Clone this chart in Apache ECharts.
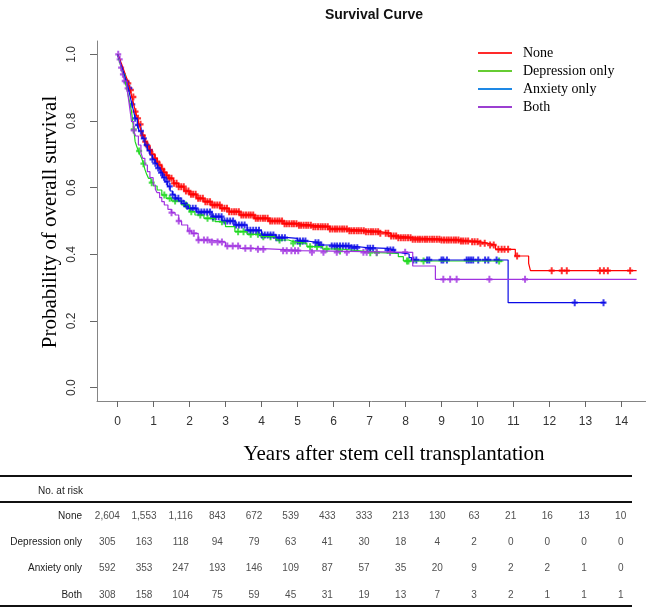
<!DOCTYPE html>
<html>
<head>
<meta charset="utf-8">
<title>Survival Curve</title>
<script src="https://cdn.jsdelivr.net/npm/echarts@6/dist/echarts.min.js"></script>
<style>
  html, body { margin: 0; padding: 0; background: #fff; }
  #survival-chart { width: 646px; height: 608px; }
</style>
</head>
<body>
<div id="survival-chart"></div>
<script>
// groups, in R drawing order
const groupNames = ['None', 'Depression only', 'Anxiety only', 'Both']
const xTicks = [0, 1, 2, 3, 4, 5, 6, 7, 8, 9, 10, 11, 12, 13, 14]
const yTicks = [0, 0.2, 0.4, 0.6, 0.8, 1.0]

// Kaplan-Meier steps (years, survival)
const noneTime = [0, 0.05, 0.1, 0.15, 0.2, 0.25, 0.3, 0.35, 0.4, 0.45, 0.5, 0.55, 0.6, 0.65, 0.7, 0.76, 0.82, 0.88, 0.95, 1.04, 1.1, 1.15, 1.22, 1.28, 1.35, 1.41, 1.55, 1.7, 1.85, 2.0, 2.2, 2.4, 2.6, 2.85, 3.1, 3.4, 3.8, 4.2, 4.6, 5.0, 5.4, 5.9, 6.4, 6.9, 7.3, 7.6, 7.8, 8.2, 9.0, 9.5, 9.75, 10.05, 10.3, 10.5, 11.05, 11.42, 11.47, 14.42]
const noneSurv = [1, 0.988, 0.975, 0.96, 0.945, 0.93, 0.913, 0.893, 0.872, 0.85, 0.828, 0.808, 0.79, 0.772, 0.757, 0.738, 0.725, 0.713, 0.7, 0.688, 0.678, 0.668, 0.656, 0.646, 0.637, 0.628, 0.613, 0.603, 0.59, 0.58, 0.568, 0.558, 0.548, 0.538, 0.528, 0.518, 0.508, 0.5, 0.492, 0.487, 0.483, 0.476, 0.471, 0.468, 0.463, 0.455, 0.45, 0.445, 0.443, 0.44, 0.438, 0.433, 0.428, 0.415, 0.395, 0.373, 0.351, 0.351]

const depressionTime = [0, 0.05, 0.1, 0.15, 0.21, 0.26, 0.3, 0.35, 0.39, 0.42, 0.45, 0.49, 0.53, 0.58, 0.62, 0.67, 0.72, 0.76, 0.81, 0.86, 0.93, 1.0, 1.1, 1.23, 1.35, 1.5, 1.78, 2.0, 2.15, 2.4, 2.71, 3.0, 3.26, 3.6, 4.0, 4.4, 4.75, 4.88, 5.26, 5.7, 6.18, 6.8, 7.29, 7.8, 7.94, 10.72]
const depressionSurv = [1, 0.98, 0.96, 0.94, 0.918, 0.897, 0.875, 0.85, 0.828, 0.8, 0.775, 0.738, 0.725, 0.71, 0.7, 0.688, 0.672, 0.655, 0.64, 0.628, 0.615, 0.605, 0.593, 0.578, 0.568, 0.56, 0.548, 0.528, 0.518, 0.508, 0.498, 0.483, 0.468, 0.46, 0.453, 0.443, 0.438, 0.433, 0.423, 0.416, 0.41, 0.405, 0.403, 0.393, 0.38, 0.38]

const anxietyTime = [0, 0.05, 0.1, 0.15, 0.2, 0.25, 0.3, 0.35, 0.4, 0.45, 0.49, 0.55, 0.6, 0.68, 0.76, 0.83, 0.9, 0.97, 1.04, 1.11, 1.18, 1.25, 1.32, 1.39, 1.46, 1.53, 1.6, 1.7, 1.78, 1.88, 1.97, 2.2, 2.62, 2.9, 3.26, 3.6, 4.0, 4.4, 4.75, 5.0, 5.26, 5.6, 5.9, 6.5, 6.92, 7.48, 7.7, 7.85, 8.1, 8.17, 10.85, 13.55]
const anxietySurv = [1, 0.985, 0.968, 0.952, 0.935, 0.917, 0.898, 0.874, 0.85, 0.828, 0.808, 0.788, 0.77, 0.748, 0.728, 0.712, 0.698, 0.685, 0.673, 0.659, 0.645, 0.631, 0.618, 0.604, 0.59, 0.579, 0.568, 0.56, 0.552, 0.545, 0.538, 0.527, 0.513, 0.5, 0.488, 0.472, 0.458, 0.45, 0.448, 0.44, 0.435, 0.428, 0.425, 0.42, 0.418, 0.413, 0.405, 0.401, 0.39, 0.383, 0.255, 0.255]

const bothTime = [0, 0.05, 0.1, 0.15, 0.2, 0.26, 0.3, 0.35, 0.39, 0.45, 0.5, 0.58, 0.65, 0.7, 0.76, 0.83, 0.9, 0.99, 1.05, 1.1, 1.17, 1.23, 1.3, 1.4, 1.5, 1.6, 1.7, 1.78, 1.95, 2.06, 2.24, 2.6, 3.0, 3.4, 3.9, 4.5, 5.07, 8.2, 8.83, 14.42]
const bothSurv = [1, 0.985, 0.96, 0.94, 0.92, 0.898, 0.87, 0.83, 0.798, 0.772, 0.755, 0.728, 0.705, 0.688, 0.668, 0.648, 0.63, 0.608, 0.595, 0.585, 0.57, 0.558, 0.548, 0.535, 0.525, 0.518, 0.5, 0.488, 0.47, 0.463, 0.443, 0.437, 0.425, 0.418, 0.415, 0.411, 0.406, 0.365, 0.325, 0.325]

// censoring marks (years)
const noneCensor = [0.3, 0.37, 0.44, 0.5, 0.57, 0.64, 0.7, 0.77, 0.84, 0.9, 0.97, 1.04, 1.1, 1.17, 1.24, 1.3, 1.37, 1.44, 1.5, 1.57, 1.64, 1.7, 1.77, 1.84, 1.9, 1.97, 2.04, 2.1, 2.17, 2.24, 2.3, 2.37, 2.44, 2.5, 2.57, 2.64, 2.7, 2.77, 2.84, 2.9, 2.97, 3.04, 3.1, 3.17, 3.24, 3.3, 3.37, 3.44, 3.5, 3.57, 3.64, 3.7, 3.77, 3.84, 3.9, 3.97, 4.04, 4.1, 4.17, 4.24, 4.3, 4.37, 4.44, 4.5, 4.57, 4.64, 4.7, 4.77, 4.84, 4.9, 4.97, 5.04, 5.1, 5.17, 5.24, 5.3, 5.37, 5.44, 5.5, 5.57, 5.64, 5.7, 5.77, 5.84, 5.9, 5.97, 6.04, 6.1, 6.17, 6.24, 6.3, 6.37, 6.44, 6.5, 6.57, 6.64, 6.7, 6.77, 6.84, 6.9, 6.97, 7.04, 7.1, 7.17, 7.24, 7.3, 7.45, 7.52, 7.6, 7.67, 7.74, 7.8, 7.87, 7.94, 8.0, 8.07, 8.14, 8.2, 8.27, 8.34, 8.4, 8.47, 8.54, 8.6, 8.67, 8.74, 8.8, 8.87, 8.94, 9.0, 9.07, 9.14, 9.2, 9.27, 9.34, 9.4, 9.47, 9.54, 9.6, 9.67, 9.74, 9.85, 9.92, 10.0, 10.08, 10.2, 10.35, 10.45, 10.58, 10.67, 10.75, 10.85, 11.1, 12.06, 12.34, 12.48, 13.4, 13.51, 13.62, 14.24]
const depressionCensor = [0.45, 0.6, 0.72, 0.95, 1.3, 1.45, 1.6, 1.9, 2.05, 2.3, 2.5, 2.65, 2.9, 3.35, 3.5, 3.7, 3.9, 4.05, 4.25, 4.5, 4.88, 5.07, 5.35, 5.54, 5.81, 6.09, 6.18, 7.02, 7.2, 8.04, 8.08, 8.5, 10.6]
const anxietyCensor = [0.25, 0.33, 0.41, 0.49, 0.57, 0.65, 0.73, 0.81, 0.89, 0.97, 1.05, 1.13, 1.21, 1.29, 1.37, 1.45, 1.53, 1.61, 1.69, 1.77, 1.85, 1.93, 2.01, 2.09, 2.17, 2.25, 2.33, 2.41, 2.49, 2.57, 2.65, 2.73, 2.81, 2.89, 2.97, 3.05, 3.13, 3.21, 3.29, 3.37, 3.45, 3.53, 3.61, 3.69, 3.77, 3.85, 3.93, 4.01, 4.09, 4.17, 4.25, 4.33, 4.41, 4.49, 4.57, 4.65, 5.0, 5.07, 5.15, 5.22, 5.5, 5.58, 5.66, 5.95, 6.03, 6.1, 6.18, 6.26, 6.34, 6.42, 6.5, 6.58, 6.66, 6.95, 7.02, 7.1, 7.5, 7.58, 7.66, 8.22, 8.3, 8.6, 8.66, 9.0, 9.05, 9.15, 9.7, 9.76, 9.82, 9.88, 10.02, 10.21, 10.3, 10.53, 12.7, 13.5]
const bothCensor = [0.02, 0.06, 0.1, 0.15, 0.2, 0.28, 0.45, 1.5, 1.7, 2.0, 2.12, 2.25, 2.4, 2.5, 2.62, 2.78, 2.9, 3.05, 3.2, 3.35, 3.55, 3.7, 3.9, 4.05, 4.6, 4.7, 4.83, 4.93, 5.02, 5.4, 5.72, 6.09, 6.37, 6.83, 6.92, 7.2, 7.57, 7.99, 9.05, 9.24, 9.42, 10.33, 11.32]

// number at risk table
const riskNone = [2604, 1553, 1116, 843, 672, 539, 433, 333, 213, 130, 63, 21, 16, 13, 10]
const riskDepression = [305, 163, 118, 94, 79, 63, 41, 30, 18, 4, 2, 0, 0, 0, 0]
const riskAnxiety = [592, 353, 247, 193, 146, 109, 87, 57, 35, 20, 9, 2, 2, 1, 0]
const riskBoth = [308, 158, 104, 75, 59, 45, 31, 19, 13, 7, 3, 2, 1, 1, 1]

const lineColors = ['#FF0000', '#1FD81F', '#0A0AE6', '#A032E0']
const legendColors = ['#FF2A2A', '#66CC33', '#1E88E5', '#9B3FD1']
const SERIF = '"Liberation Serif", "Times New Roman", serif'
const SANS = '"Liberation Sans", Arial, sans-serif'
// R's "+" censor mark
const plusMark = 'path://M2,0h2v2.3h2v2.4h-2v2.3h-2v-2.3h-2v-2.4h2z'

const curves = [
  {time: noneTime, surv: noneSurv, censor: noneCensor},
  {time: depressionTime, surv: depressionSurv, censor: depressionCensor},
  {time: anxietyTime, surv: anxietySurv, censor: anxietyCensor},
  {time: bothTime, surv: bothSurv, censor: bothCensor}
]
const riskRows = [riskNone, riskDepression, riskAnxiety, riskBoth]

// survival value of a step curve at time t
const survAt = (time, surv, t) => {
  let s = surv[0]
  for (let i = 0; i < time.length; i++) {
    if (time[i] <= t) s = surv[i]
  }
  return s
}

const series = []
curves.forEach((c, gi) => {
  series.push({
    name: groupNames[gi],
    type: 'line',
    step: 'end',
    showSymbol: false,
    silent: true,
    data: c.time.map((t, i) => [t, c.surv[i]]),
    lineStyle: {color: lineColors[gi], width: 1.2},
    itemStyle: {color: lineColors[gi]}
  })
  series.push({
    name: groupNames[gi] + ' censored',
    type: 'scatter',
    symbol: plusMark,
    symbolSize: [6, 7],
    silent: true,
    data: c.censor.map(t => [t, survAt(c.time, c.surv, t)]),
    itemStyle: {color: lineColors[gi]}
  })
})

const tableData = []
riskRows.forEach((row, ri) => {
  row.forEach((n, ci) => tableData.push([ci, groupNames[ri], n]))
})
series.push({
  name: 'at risk',
  type: 'scatter',
  xAxisIndex: 1,
  yAxisIndex: 1,
  symbolSize: 1,
  silent: true,
  itemStyle: {color: 'transparent'},
  label: {
    show: true,
    position: 'inside',
    fontFamily: SANS,
    fontSize: 10,
    color: '#222',
    formatter: p => p.value[2].toLocaleString('en-US')
  },
  data: tableData
})

const chart = echarts.init(document.getElementById('survival-chart'), null, {renderer: 'canvas'})

chart.setOption({
  backgroundColor: '#fff',
  animation: false,
  title: {
    text: 'Survival Curve',
    left: 369,
    top: 3,
    textAlign: 'center',
    textStyle: {
      fontFamily: '"Liberation Sans Narrow", "Liberation Sans", Arial, sans-serif',
      fontWeight: 'bold',
      fontSize: 14,
      color: '#111'
    }
  },
  legend: {
    orient: 'vertical',
    left: 478,
    top: 44,
    icon: 'rect',
    itemWidth: 34,
    itemHeight: 2,
    itemGap: 0,
    padding: 0,
    selectedMode: false,
    textStyle: {
      fontFamily: SERIF,
      fontSize: 14,
      lineHeight: 18,
      color: '#000',
      padding: [0, 0, 0, 6]
    },
    data: groupNames.map((n, i) => ({name: n, itemStyle: {color: legendColors[i]}}))
  },
  grid: [
    {left: 97, right: 0, top: 41, height: 360},
    {left: 89, right: 7, top: 503, height: 105}
  ],
  xAxis: [
    {
      type: 'value',
      min: -0.57,
      max: 14.68,
      axisLine: {onZero: false, lineStyle: {color: '#858585', width: 1}},
      axisTick: {customValues: xTicks, length: 6, lineStyle: {color: '#666'}},
      axisLabel: {
        customValues: xTicks,
        margin: 15,
        fontFamily: SANS,
        fontSize: 12,
        color: '#333'
      },
      splitLine: {show: false}
    },
    {
      gridIndex: 1,
      type: 'value',
      min: -0.5,
      max: 14.5,
      show: false
    }
  ],
  yAxis: [
    {
      type: 'value',
      min: -0.04,
      max: 1.04,
      axisLine: {show: true, onZero: false, lineStyle: {color: '#858585', width: 1}},
      axisTick: {show: true, customValues: yTicks, length: 7, lineStyle: {color: '#666'}},
      axisLabel: {
        customValues: yTicks,
        rotate: 90,
        margin: 19,
        fontFamily: SANS,
        fontSize: 12,
        color: '#333',
        formatter: v => v.toFixed(1)
      },
      splitLine: {show: false}
    },
    {
      gridIndex: 1,
      type: 'category',
      inverse: true,
      data: groupNames,
      axisLine: {show: false},
      axisTick: {show: false},
      axisLabel: {margin: 7, fontFamily: SANS, fontSize: 10, color: '#222'}
    }
  ],
  graphic: [
    {
      type: 'text',
      x: 394,
      y: 454,
      style: {
        text: 'Years after stem cell transplantation',
        font: '21px ' + SERIF,
        fill: '#000',
        align: 'center',
        verticalAlign: 'middle',
        textAlign: 'center',
        textVerticalAlign: 'middle'
      }
    },
    {
      type: 'text',
      x: 50,
      y: 222,
      rotation: Math.PI / 2,
      style: {
        text: 'Probability of overall survival',
        font: '21px ' + SERIF,
        fill: '#000',
        align: 'center',
        verticalAlign: 'middle',
        textAlign: 'center',
        textVerticalAlign: 'middle'
      }
    },
    {
      type: 'text',
      x: 83,
      y: 491,
      style: {
        text: 'No. at risk',
        font: '10px ' + SANS,
        fill: '#222',
        align: 'right',
        verticalAlign: 'middle',
        textAlign: 'right',
        textVerticalAlign: 'middle'
      }
    },
    {type: 'line', shape: {x1: 0, y1: 476, x2: 632, y2: 476}, style: {stroke: '#111', lineWidth: 2}},
    {type: 'line', shape: {x1: 0, y1: 502, x2: 632, y2: 502}, style: {stroke: '#111', lineWidth: 2}},
    {type: 'line', shape: {x1: 0, y1: 606, x2: 632, y2: 606}, style: {stroke: '#111', lineWidth: 2}}
  ],
  series: series
})
</script>
</body>
</html>
